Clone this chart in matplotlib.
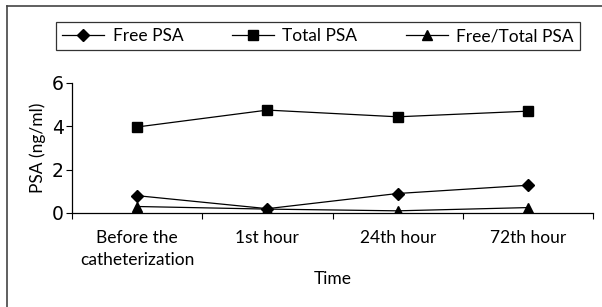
import matplotlib.pyplot as plt
from matplotlib.lines import Line2D

# ---------------------------------------------------------------------------
# Data
# ---------------------------------------------------------------------------
categories = ["Before the\ncatheterization", "1st hour", "24th hour", "72th hour"]
free_psa = [0.80, 0.20, 0.90, 1.28]
total_psa = [3.97, 4.75, 4.44, 4.70]
free_total_psa = [0.30, 0.18, 0.10, 0.25]
series_names = ["Free PSA", "Total PSA", "Free/Total PSA"]
y_ticks = [0, 2, 4, 6]

LABEL_FONT = ["Lato", "DejaVu Sans"]

fig = plt.figure(figsize=(6.02, 3.07), dpi=100)
ax = fig.add_axes([72 / 602, 1 - 213 / 307, (593 - 72) / 602, 130 / 307])

x = list(range(len(categories)))
ax.plot(x, free_psa, color="black", lw=0.9, marker="D", ms=6.5, label=series_names[0])
ax.plot(x, total_psa, color="black", lw=0.9, marker="s", ms=6.5, label=series_names[1])
ax.plot(x, free_total_psa, color="black", lw=0.9, marker="^", ms=7.5, label=series_names[2])

ax.set_xlim(-0.5, len(categories) - 0.5)
ax.set_ylim(0, 6)
ax.set_yticks(y_ticks)
ax.set_yticklabels([str(v) for v in y_ticks], fontsize=13.5, family="DejaVu Sans")
ax.set_xticks(x)
ax.set_xticklabels(categories, fontsize=12.5, family=LABEL_FONT, linespacing=1.5)
ax.set_xticks([i - 0.5 for i in range(len(categories) + 1)], minor=True)
ax.tick_params(axis="x", which="major", length=0, pad=12)
ax.tick_params(axis="x", which="minor", length=4, width=0.8, direction="out")
ax.tick_params(axis="y", length=4, width=0.8, pad=2)

for side in ("top", "right"):
    ax.spines[side].set_visible(False)
for side in ("left", "bottom"):
    ax.spines[side].set_linewidth(0.9)

ax.set_ylabel("PSA (ng/ml)", fontsize=12.5, family=LABEL_FONT, labelpad=4)
ax.set_xlabel("Time", fontsize=12.5, family=LABEL_FONT, labelpad=2)

leg = fig.legend(
    loc="center", bbox_to_anchor=(318 / 602, 1 - 36 / 307), ncol=3,
    frameon=True, fancybox=False, edgecolor="black", handlelength=2.4,
    columnspacing=2.8, handletextpad=0.5, borderpad=0.35,
    prop={"family": LABEL_FONT, "size": 12.5},
)
leg.get_frame().set_linewidth(0.9)

# partial outer frame (left and top edges visible)
fig.add_artist(Line2D([7 / 602, 7 / 602], [0, 1 - 6 / 307], color="#444444", lw=1.2))
fig.add_artist(Line2D([7 / 602, 1], [1 - 6 / 307, 1 - 6 / 307], color="#444444", lw=1.2))

fig.savefig("out.png", dpi=100)
